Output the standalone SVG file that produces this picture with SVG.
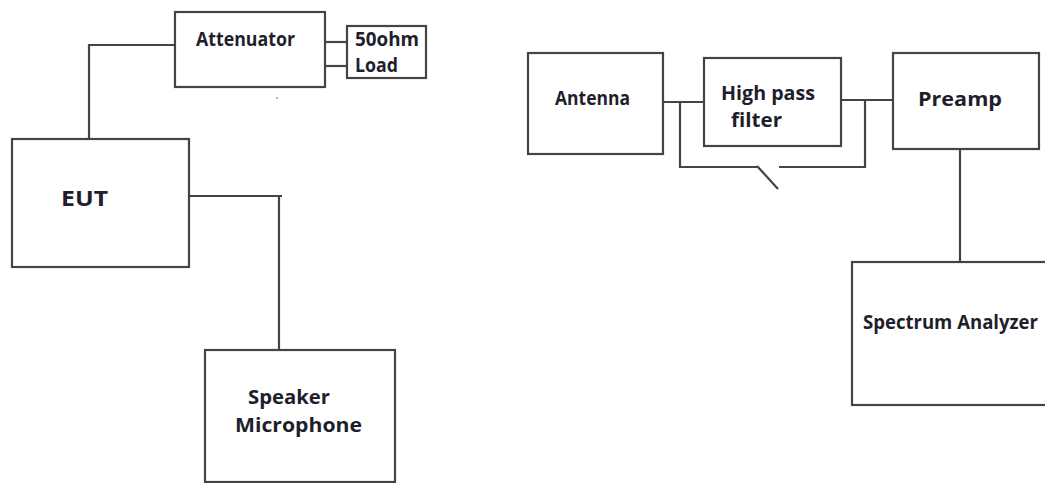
<svg xmlns="http://www.w3.org/2000/svg" width="1045" height="483" viewBox="0 0 1045 483">
<style>
.box{fill:#fff;stroke:#444;stroke-width:2.2}
.wire{fill:none;stroke:#444;stroke-width:2.2}
.lbl{font-family:"Open Sans","DejaVu Sans",sans-serif;font-weight:700;font-size:19px;fill:#1e1e2c}
</style>
<rect width="1045" height="483" fill="#fff"/>
<g id="connectors">
<polyline class="wire" points="89,139 89,45 175,45"/>
<line class="wire" x1="325" y1="42" x2="347" y2="42"/>
<line class="wire" x1="325" y1="66" x2="347" y2="66"/>
<polyline class="wire" points="189,196 282,196"/>
<line class="wire" x1="279" y1="195" x2="279" y2="350"/>
<line class="wire" x1="663" y1="102" x2="704" y2="102"/>
<polyline class="wire" points="680,102 680,167 757,167"/>
<line class="wire" x1="757" y1="166" x2="778" y2="189"/>
<polyline class="wire" points="779,167 865,167 865,100"/>
<line class="wire" x1="841" y1="100" x2="893" y2="100"/>
<line class="wire" x1="960" y1="149" x2="960" y2="262"/>
</g>
<g id="attenuator">
<rect class="box" x="175" y="12" width="150" height="75"/>
<text class="lbl" x="196" y="46" textLength="99" lengthAdjust="spacingAndGlyphs">Attenuator</text>
</g>
<g id="load">
<rect class="box" x="347" y="26" width="79" height="52"/>
<text class="lbl" x="355" y="46" textLength="64" lengthAdjust="spacingAndGlyphs">50ohm</text>
<text class="lbl" x="355" y="72" textLength="43" lengthAdjust="spacingAndGlyphs">Load</text>
</g>
<circle cx="277" cy="98" r="1" fill="#999"/>
<g id="eut">
<rect class="box" x="12" y="139" width="177" height="128"/>
<text class="lbl" x="61" y="206" textLength="47" lengthAdjust="spacingAndGlyphs" style="font-size:21px">EUT</text>
</g>
<g id="speaker">
<rect class="box" x="205" y="350" width="190" height="132"/>
<text class="lbl" x="248" y="404" textLength="82" lengthAdjust="spacingAndGlyphs">Speaker</text>
<text class="lbl" x="235" y="432" textLength="127" lengthAdjust="spacingAndGlyphs">Microphone</text>
</g>
<g id="antenna">
<rect class="box" x="528" y="53" width="135" height="101"/>
<text class="lbl" x="555" y="105" textLength="75" lengthAdjust="spacingAndGlyphs">Antenna</text>
</g>
<g id="hpf">
<rect class="box" x="704" y="58" width="137" height="88"/>
<text class="lbl" x="721" y="100" textLength="94" lengthAdjust="spacingAndGlyphs">High pass</text>
<text class="lbl" x="731" y="127" textLength="51" lengthAdjust="spacingAndGlyphs">filter</text>
</g>
<g id="preamp">
<rect class="box" x="893" y="53" width="146" height="96"/>
<text class="lbl" x="918" y="106" textLength="84" lengthAdjust="spacingAndGlyphs">Preamp</text>
</g>
<g id="spectrum">
<rect class="box" x="852" y="262" width="200" height="143"/>
<text class="lbl" x="863" y="329" textLength="175" lengthAdjust="spacingAndGlyphs">Spectrum Analyzer</text>
</g>
</svg>
